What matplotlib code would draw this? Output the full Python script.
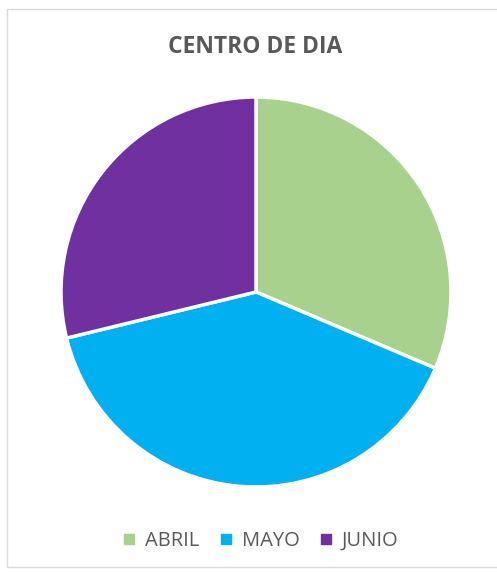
import matplotlib.pyplot as plt
from matplotlib.lines import Line2D
from matplotlib.patches import Rectangle

# Datos
meses = ["ABRIL", "MAYO", "JUNIO"]
valores = [31.4, 39.8, 28.8]
colores = ["#A9D18E", "#00B0F0", "#7030A0"]

plt.rcParams['font.family'] = ['Open Sans', 'DejaVu Sans']

fig = plt.figure(figsize=(4.97, 5.73), dpi=100)

# Marco del gráfico
fig.patches.append(Rectangle((7 / 497, 6 / 573), 1.0, 1 - 15 / 573, transform=fig.transFigure,
                             fill=False, edgecolor="#D9D9D9", linewidth=1))

ax = fig.add_axes([61 / 497, 1 - 487 / 573, 390 / 497, 390 / 573])
ax.pie(valores, colors=colores, startangle=90, counterclock=False, radius=1,
       wedgeprops=dict(edgecolor="white", linewidth=2.5))
ax.set_xlim(-1.0, 1.0)
ax.set_ylim(-1.0, 1.0)
ax.set_aspect("equal")
ax.axis("off")

fig.text(255 / 497, 1 - 47 / 573, "CENTRO DE DIA", ha="center", va="center",
         fontsize=16.5, fontweight="bold", color="#595959")

handles = [Line2D([], [], marker="s", linestyle="none", markersize=7,
                  markerfacecolor=c, markeredgecolor=c) for c in colores]
fig.legend(handles, meses, loc="center", bbox_to_anchor=(259 / 497, 1 - 541 / 573),
           ncol=3, frameon=False, fontsize=14.5, labelcolor="#595959",
           handletextpad=0.3, columnspacing=0.8, handlelength=1.0)

fig.savefig("out.png", dpi=100)
